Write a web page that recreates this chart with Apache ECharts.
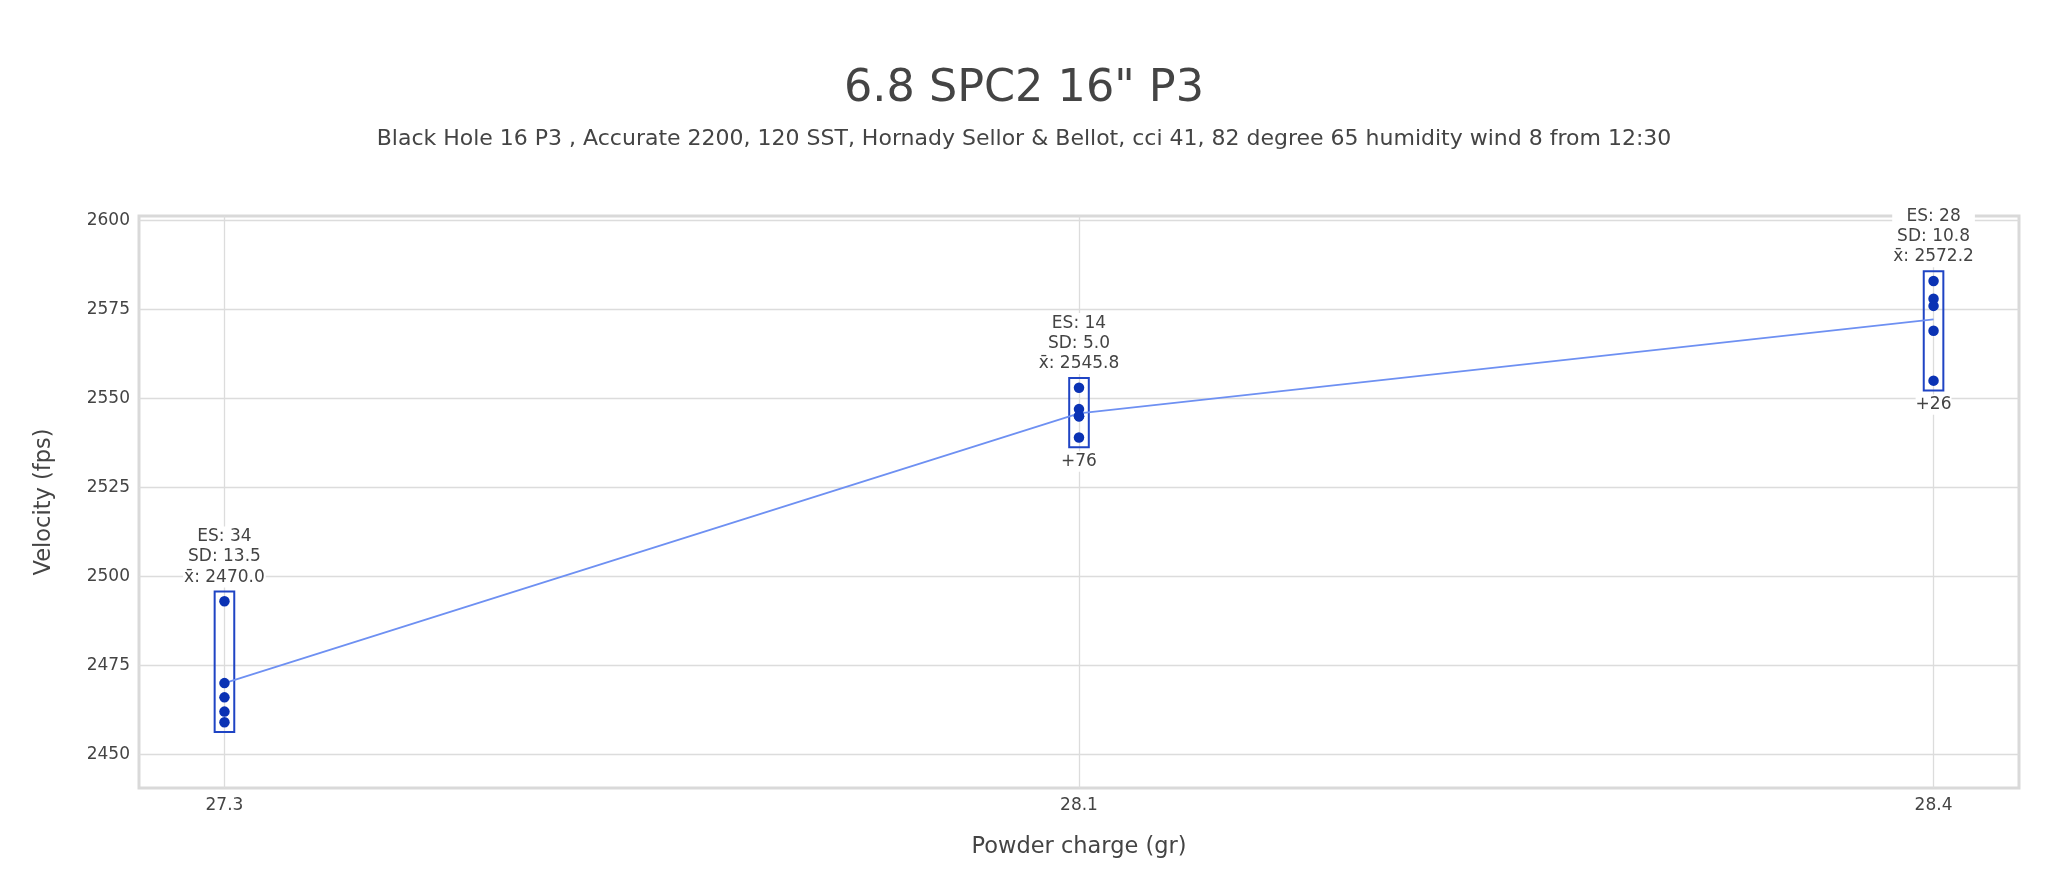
<!DOCTYPE html>
<html>
<head>
<meta charset="utf-8">
<script src="https://cdn.jsdelivr.net/npm/echarts@6/dist/echarts.min.js"></script>
<style>
html,body{margin:0;padding:0;background:#fff;}
#chart{width:2048px;height:889px;}
</style>
</head>
<body>
<div id="chart"></div>
<script>
// ---- data ----
const charges = ['27.3', '28.1', '28.4'];
const shots_27_3 = [2493, 2470, 2466, 2462, 2459];
const shots_28_1 = [2553, 2547, 2545, 2545, 2539];
const shots_28_4 = [2583, 2578, 2576, 2569, 2555];
const means = [2470.0, 2545.8, 2572.2];
const esValues = [34, 14, 28];
const sdValues = [13.5, 5.0, 10.8];
const deltaLabels = ['', '+76', '+26'];
const yTicks = [2450, 2475, 2500, 2525, 2550, 2575, 2600];
const xTicks = [0, 1, 2];

const titleText = '6.8 SPC2 16" P3';
const subtitleText = 'Black Hole 16 P3 , Accurate 2200, 120 SST, Hornady Sellor & Bellot, cci 41, 82 degree 65 humidity wind 8 from 12:30';

// ---- build series data ----
const allShots = [shots_27_3, shots_28_1, shots_28_4];
const scatterData = [];
allShots.forEach((arr, i) => arr.forEach(v => scatterData.push([i, v])));
const lineData = means.map((m, i) => [i, m]);
const groupData = allShots.map((arr, i) => [i, Math.min(...arr), Math.max(...arr), i]);

const FONT = 'DejaVu Sans';
const TXT = '#444';

const chart = echarts.init(document.getElementById('chart'), null, {renderer: 'canvas'});

const option = {
  backgroundColor: '#fff',
  animation: false,
  title: [
    {text: titleText, left: 'center', top: 62,
     textStyle: {fontFamily: FONT, fontSize: 44.5, fontWeight: 'normal', color: TXT}},
    {text: subtitleText, left: 'center', top: 123,
     textStyle: {fontFamily: FONT, fontSize: 22, fontWeight: 'normal', color: TXT}}
  ],
  grid: {
    left: 139, right: 29, top: 216, height: 572,
    show: true, borderColor: '#d9d9d9', borderWidth: 3, backgroundColor: 'transparent',
    containLabel: false
  },
  xAxis: {
    type: 'value', min: -0.1, max: 2.1,
    name: 'Powder charge (gr)', nameLocation: 'middle', nameGap: 48,
    nameTextStyle: {fontFamily: FONT, fontSize: 22.5, color: TXT},
    axisLine: {show: false},
    axisTick: {show: false, customValues: xTicks},
    axisLabel: {customValues: xTicks, margin: 9, fontFamily: FONT, fontSize: 17, color: TXT,
                formatter: v => charges[Math.round(v)]},
    splitLine: {show: true, lineStyle: {color: '#dcdcdc', width: 1.3}}
  },
  yAxis: {
    type: 'value', min: 2440.53, max: 2601.26,
    name: 'Velocity (fps)', nameLocation: 'middle', nameGap: 83,
    nameTextStyle: {fontFamily: FONT, fontSize: 22.5, color: TXT},
    axisLine: {show: false},
    axisTick: {show: false, customValues: yTicks},
    axisLabel: {customValues: yTicks, margin: 9, fontFamily: FONT, fontSize: 17, color: TXT,
                formatter: v => String(Math.round(v))},
    splitLine: {show: true, lineStyle: {color: '#dcdcdc', width: 1.3}}
  },
  series: [
    {
      type: 'custom',
      name: 'groups',
      z: 2,
      clip: false,
      encode: {x: 0, y: [1, 2]},
      data: groupData,
      renderItem: function (params, api) {
        const i = api.value(0);
        const top = api.coord([i, api.value(2)]);
        const bot = api.coord([i, api.value(1)]);
        const pad = 9.8, hw = 9.8;
        const x = top[0];
        const y0 = top[1] - pad, y1 = bot[1] + pad;
        return {type: 'group', children: [{
          type: 'rect',
          shape: {x: x - hw, y: y0, width: hw * 2, height: y1 - y0},
          style: {fill: 'transparent', stroke: '#1f44c4', lineWidth: 2}
        }]};
      }
    },
    {
      type: 'line',
      name: 'mean',
      z: 3,
      data: lineData,
      symbol: 'none',
      lineStyle: {color: '#6e90f2', width: 1.8},
      silent: true
    },
    {
      type: 'scatter',
      name: 'shots',
      z: 4,
      data: scatterData,
      symbolSize: 10.5,
      itemStyle: {color: '#0a32b4', opacity: 1}
    },
    {
      type: 'custom',
      name: 'labels',
      z: 6,
      clip: false,
      encode: {x: 0, y: [1, 2]},
      data: groupData,
      renderItem: function (params, api) {
        const i = api.value(0);
        const top = api.coord([i, api.value(2)]);
        const bot = api.coord([i, api.value(1)]);
        const pad = 9.8;
        const x = top[0];
        const y0 = top[1] - pad, y1 = bot[1] + pad;
        const idx = api.value(3);
        const children = [{
          type: 'text',
          x: x, y: y0 - 4,
          style: {
            text: 'ES: ' + esValues[idx] + '\nSD: ' + sdValues[idx].toFixed(1) + '\nx\u0304: ' + means[idx].toFixed(1),
            align: 'center', verticalAlign: 'bottom',
            fontFamily: FONT, fontSize: 17, lineHeight: 20.3, fill: TXT,
            backgroundColor: '#fff', padding: [0, 1, 0, 1]
          }
        }];
        if (deltaLabels[idx]) {
          children.push({
            type: 'text',
            x: x, y: y1 + 4,
            style: {
              text: deltaLabels[idx], align: 'center', verticalAlign: 'top',
              fontFamily: FONT, fontSize: 17, lineHeight: 20.3, fill: TXT,
              backgroundColor: '#fff'
            }
          });
        }
        return {type: 'group', children: children};
      }
    }
  ]
};
chart.setOption(option);
</script>
</body>
</html>
